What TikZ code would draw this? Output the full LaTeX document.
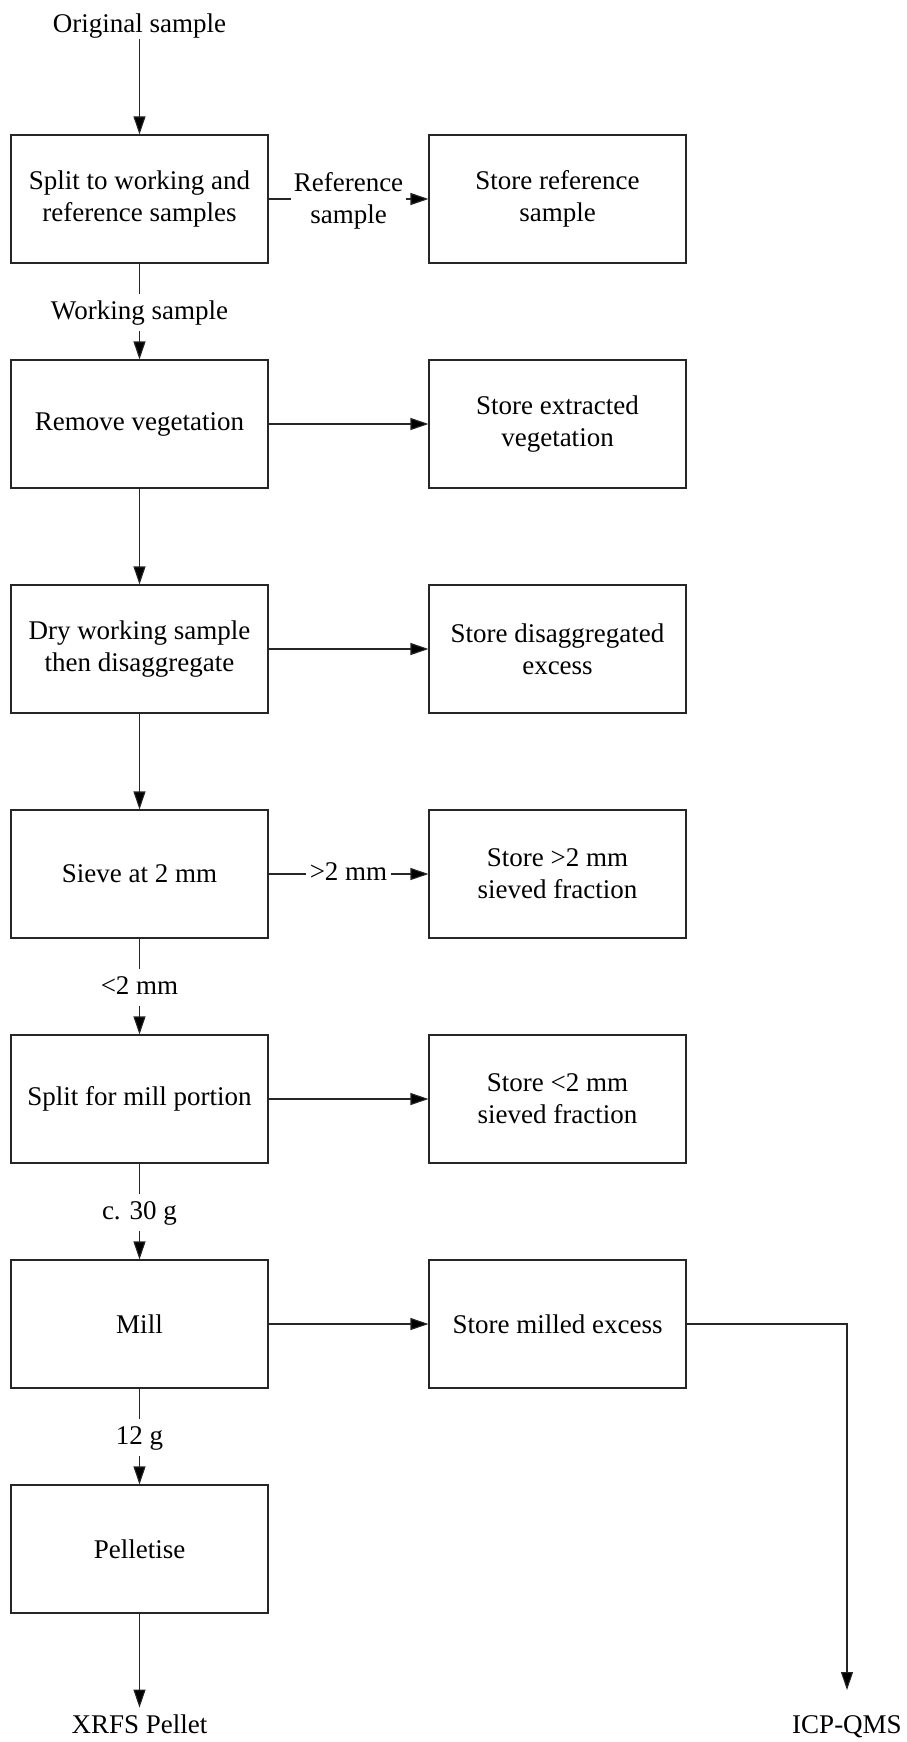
\documentclass[tikz,border=0pt]{standalone}
\usepackage{fontspec}
\setmainfont{Liberation Serif}
\usetikzlibrary{arrows.meta}
\begin{document}
\begin{tikzpicture}[x=1pt,y=-1pt,
  font=\fontsize{27}{32}\selectfont,
  line width=1.1pt,
  box/.style={draw=black!85, minimum width=257pt, minimum height=128pt, align=center, inner sep=0pt},
  lbl/.style={inner xsep=3pt, inner ysep=4pt, text height=21.6pt, text depth=6.75pt},
  lbltwo/.style={inner xsep=2pt, inner ysep=2pt, align=center},
  term/.style={inner sep=0pt, text height=18.9pt, text depth=6.75pt},
  ln/.style={draw=black!85},
  arr/.style={draw=black!85, -{Triangle[length=18pt,width=12pt,fill=black]}}]
\useasboundingbox (0,0) rectangle (906,1742);
% left column
\node[term] (orig) at (139.5,26) {Original sample};
\node[box] (b1) at (139.5,199) {Split to working and\\reference samples};
\node[box] (b2) at (139.5,424) {Remove vegetation};
\node[box] (b3) at (139.5,649) {Dry working sample\\then disaggregate};
\node[box] (b4) at (139.5,874) {Sieve at 2 mm};
\node[box] (b5) at (139.5,1099) {Split for mill portion};
\node[box] (b6) at (139.5,1324) {Mill};
\node[box] (b7) at (139.5,1549) {Pelletise};
\node[term] (xrfs) at (139.5,1727) {XRFS Pellet};
% right column
\node[box] (r1) at (557.5,199) {Store reference\\sample};
\node[box] (r2) at (557.5,424) {Store extracted\\vegetation};
\node[box] (r3) at (557.5,649) {Store disaggregated\\excess};
\node[box] (r4) at (557.5,874) {Store >2 mm\\sieved fraction};
\node[box] (r5) at (557.5,1099) {Store <2 mm\\sieved fraction};
\node[box] (r6) at (557.5,1324) {Store milled excess};
\node[term] (icp) at (847,1727) {ICP-QMS};
\coordinate (icpend) at (847,1690);
% connector labels
\node[lbl] (lw) at (139.5,312.5) {Working sample};
\node[lbl] (l2) at (139.5,987.5) {<2 mm};
\node[lbl] (l30) at (139.5,1212.5) {c. 30 g};
\node[lbl] (l12) at (139.5,1437.5) {12 g};
\node[lbltwo] (lref) at (348.5,201) {Reference\\sample};
\node[inner xsep=3pt, inner ysep=4pt] (lg2) at (348.5,872) {>2 mm};
% vertical connectors
\draw[arr] (orig) -- (b1);
\draw[ln] (b1) -- (lw);
\draw[arr] (lw) -- (b2);
\draw[arr] (b2) -- (b3);
\draw[arr] (b3) -- (b4);
\draw[ln] (b4) -- (l2);
\draw[arr] (l2) -- (b5);
\draw[ln] (b5) -- (l30);
\draw[arr] (l30) -- (b6);
\draw[ln] (b6) -- (l12);
\draw[arr] (l12) -- (b7);
\draw[arr, shorten >=6pt] (b7) -- (xrfs);
% horizontal connectors
\draw[ln] (b1.east) -- (b1.east -| lref.west);
\draw[arr] (b1.east -| lref.east) -- (r1.west);
\draw[arr] (b2) -- (r2);
\draw[arr] (b3) -- (r3);
\draw[ln] (b4.east) -- (b4.east -| lg2.west);
\draw[arr] (b4.east -| lg2.east) -- (r4.west);
\draw[arr] (b5) -- (r5);
\draw[arr] (b6) -- (r6);
\draw[arr] (r6.east) -| (icpend);
\end{tikzpicture}
\end{document}
